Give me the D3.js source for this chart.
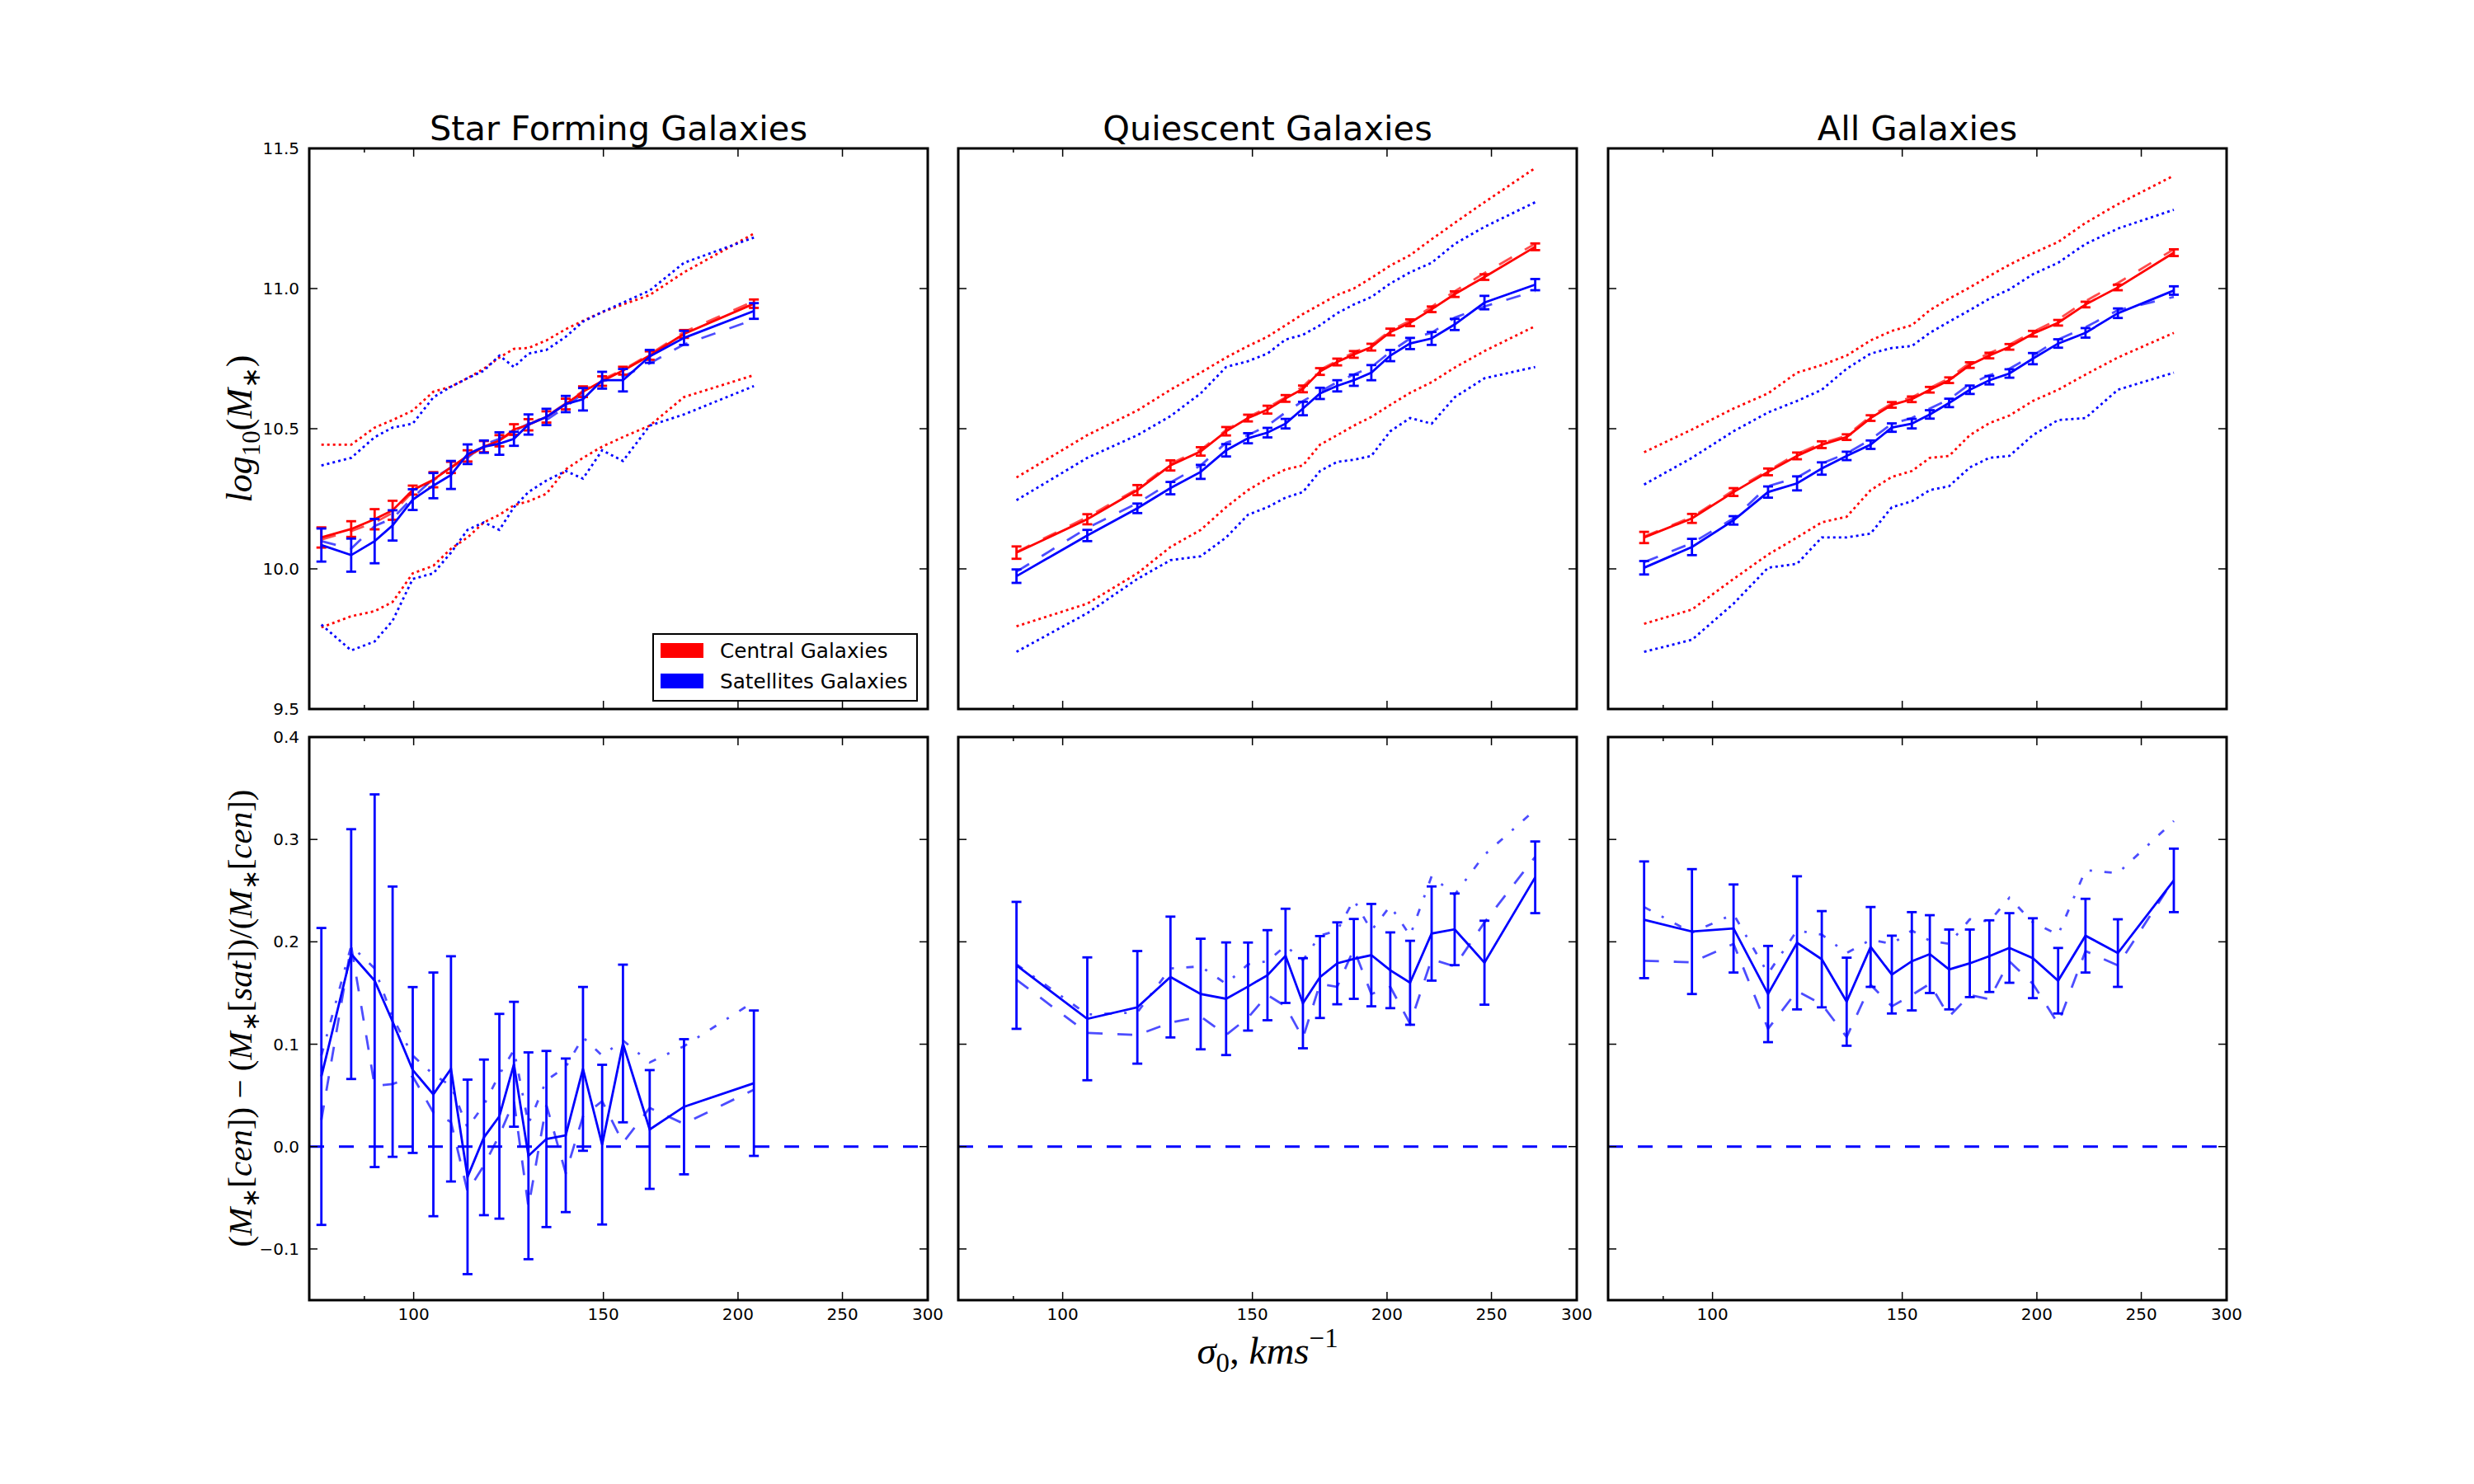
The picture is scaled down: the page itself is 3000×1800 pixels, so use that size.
<!DOCTYPE html>
<html>
<head>
<meta charset="utf-8">
<script src="https://cdn.jsdelivr.net/npm/d3@7"></script>
<style>
  body { margin: 0; background: #fff; }
  text { font-family: "DejaVu Sans"; }
  text.math { font-family: "Liberation Serif"; }
</style>
</head>
<body>
<svg id="fig" width="3000" height="1800"></svg>
<script>
(function() {

  // ---- data ----
  let titles = ["Star Forming Galaxies", "Quiescent Galaxies", "All Galaxies"];
  let xTicks = [100, 150, 200, 250, 300];
  let xMinorTicks = [90];
  let topTicks = [9.5, 10.0, 10.5, 11.0, 11.5];
  let botTicks = [-0.1, 0.0, 0.1, 0.2, 0.3, 0.4];
  let legendLabels = ["Central Galaxies", "Satellites Galaxies"];

  // star forming
  let sfSigma   = [82.1, 87.5, 92.0, 95.6, 99.8, 104.3, 108.3, 112.2, 116.2, 120.1, 123.9, 127.8, 132.8, 138.4, 143.6, 149.6, 156.4, 165.6, 178.2, 206.9];
  let sfCen     = [10.112, 10.142, 10.177, 10.209, 10.281, 10.318, 10.362, 10.403, 10.436, 10.457, 10.497, 10.514, 10.542, 10.588, 10.632, 10.670, 10.707, 10.761, 10.838, 10.946];
  let sfCenErr  = [0.036, 0.028, 0.036, 0.034, 0.016, 0.027, 0.020, 0.020, 0.020, 0.020, 0.019, 0.020, 0.020, 0.019, 0.019, 0.017, 0.014, 0.015, 0.014, 0.015];
  let sfCenDash = [10.105, 10.135, 10.165, 10.200, 10.275, 10.315, 10.360, 10.400, 10.435, 10.460, 10.490, 10.515, 10.545, 10.590, 10.635, 10.675, 10.710, 10.765, 10.845, 10.955];
  let sfCenHi   = [10.443, 10.443, 10.504, 10.531, 10.565, 10.632, 10.650, 10.680, 10.714, 10.754, 10.785, 10.788, 10.815, 10.855, 10.885, 10.916, 10.943, 10.977, 11.058, 11.196];
  let sfCenLo   = [9.791, 9.831, 9.849, 9.882, 9.984, 10.011, 10.072, 10.112, 10.166, 10.193, 10.227, 10.241, 10.268, 10.355, 10.396, 10.436, 10.470, 10.511, 10.613, 10.691];
  let sfSat     = [10.085, 10.049, 10.099, 10.155, 10.247, 10.297, 10.335, 10.409, 10.436, 10.447, 10.464, 10.515, 10.542, 10.588, 10.605, 10.673, 10.673, 10.758, 10.824, 10.920];
  let sfSatErr  = [0.059, 0.059, 0.079, 0.054, 0.037, 0.045, 0.050, 0.035, 0.022, 0.040, 0.025, 0.036, 0.029, 0.029, 0.040, 0.030, 0.040, 0.023, 0.025, 0.028];
  let sfSatDash = [10.099, 10.072, 10.153, 10.180, 10.254, 10.322, 10.362, 10.396, 10.443, 10.464, 10.491, 10.518, 10.531, 10.578, 10.626, 10.669, 10.686, 10.733, 10.801, 10.889];
  let sfSatHi   = [10.369, 10.396, 10.470, 10.504, 10.518, 10.612, 10.650, 10.680, 10.707, 10.761, 10.720, 10.768, 10.781, 10.828, 10.882, 10.916, 10.950, 10.993, 11.092, 11.182];
  let sfSatLo   = [9.801, 9.709, 9.741, 9.815, 9.964, 9.984, 10.058, 10.139, 10.166, 10.139, 10.220, 10.274, 10.315, 10.349, 10.322, 10.423, 10.385, 10.511, 10.551, 10.652];
  let sfDiff    = [0.0685, 0.188, 0.162, 0.122, 0.0748, 0.051, 0.0759, -0.0296, 0.009, 0.0296, 0.0804, -0.009, 0.0074, 0.011, 0.0759, 0.0019, 0.1007, 0.0167, 0.0389, 0.0619];
  let sfDiffErr = [0.145, 0.122, 0.182, 0.132, 0.081, 0.119, 0.110, 0.095, 0.076, 0.100, 0.061, 0.101, 0.086, 0.075, 0.080, 0.078, 0.077, 0.058, 0.066, 0.071];
  let sfDiffDash = [0.026, 0.196, 0.0593, 0.061, 0.0685, 0.0333, 0.024, -0.044, -0.0185, 0.011, 0.0444, -0.059, 0.0407, -0.026, 0.0296, 0.0444, 0.0037, 0.0378, 0.0222, 0.0556];
  let sfDiffDot  = [0.0889, 0.196, 0.174, 0.126, 0.0889, 0.0704, 0.0593, 0.0185, 0.0407, 0.0704, 0.0944, 0.0222, 0.0648, 0.0778, 0.1067, 0.0889, 0.1037, 0.0822, 0.0981, 0.1415];

  // quiescent
  let qSigma   = [90.6, 105.4, 117.3, 125.9, 134.3, 141.8, 148.6, 154.9, 161.0, 167.1, 173.3, 179.8, 186.3, 193.4, 201.4, 210.1, 220.0, 231.1, 246.3, 274.5];
  let qCen     = [10.058, 10.177, 10.281, 10.369, 10.419, 10.491, 10.538, 10.568, 10.608, 10.642, 10.704, 10.738, 10.765, 10.791, 10.845, 10.878, 10.926, 10.980, 11.041, 11.149];
  let qCenErr  = [0.022, 0.018, 0.018, 0.018, 0.015, 0.015, 0.012, 0.014, 0.012, 0.012, 0.012, 0.012, 0.012, 0.012, 0.012, 0.012, 0.010, 0.010, 0.010, 0.012];
  let qCenDash = [10.060, 10.185, 10.285, 10.375, 10.425, 10.495, 10.542, 10.575, 10.612, 10.650, 10.710, 10.742, 10.772, 10.798, 10.850, 10.885, 10.935, 10.990, 11.055, 11.160];
  let qCenHi   = [10.326, 10.477, 10.565, 10.639, 10.700, 10.754, 10.795, 10.828, 10.869, 10.909, 10.943, 10.977, 11.000, 11.038, 11.082, 11.119, 11.176, 11.234, 11.308, 11.430];
  let qCenLo   = [9.795, 9.876, 9.984, 10.078, 10.139, 10.220, 10.281, 10.322, 10.355, 10.369, 10.443, 10.477, 10.511, 10.542, 10.585, 10.628, 10.666, 10.718, 10.777, 10.866];
  let qSat     = [9.974, 10.119, 10.216, 10.288, 10.346, 10.423, 10.466, 10.486, 10.518, 10.572, 10.626, 10.653, 10.673, 10.700, 10.761, 10.804, 10.822, 10.872, 10.950, 11.014];
  let qSatErr  = [0.024, 0.020, 0.017, 0.022, 0.025, 0.022, 0.018, 0.017, 0.017, 0.024, 0.020, 0.020, 0.020, 0.027, 0.020, 0.020, 0.023, 0.020, 0.024, 0.020];
  let qSatDash = [9.990, 10.146, 10.234, 10.308, 10.369, 10.450, 10.477, 10.511, 10.558, 10.599, 10.632, 10.666, 10.693, 10.720, 10.774, 10.822, 10.842, 10.896, 10.936, 10.991];
  let qSatHi   = [10.245, 10.396, 10.477, 10.545, 10.626, 10.720, 10.741, 10.768, 10.818, 10.835, 10.869, 10.912, 10.943, 10.970, 11.018, 11.058, 11.092, 11.159, 11.220, 11.308];
  let qSatLo   = [9.704, 9.842, 9.964, 10.031, 10.045, 10.112, 10.193, 10.220, 10.254, 10.274, 10.349, 10.382, 10.389, 10.403, 10.491, 10.538, 10.518, 10.612, 10.680, 10.720];
  let qDiff    = [0.177, 0.1248, 0.136, 0.1656, 0.149, 0.1444, 0.1563, 0.1674, 0.1863, 0.140, 0.1656, 0.179, 0.1833, 0.187, 0.1722, 0.160, 0.2081, 0.2122, 0.1796, 0.263];
  let qDiffErr = [0.062, 0.060, 0.055, 0.059, 0.054, 0.055, 0.043, 0.044, 0.046, 0.044, 0.040, 0.040, 0.039, 0.050, 0.037, 0.041, 0.046, 0.035, 0.041, 0.035];
  let qDiffDash = [0.163, 0.111, 0.109, 0.121, 0.127, 0.109, 0.126, 0.148, 0.137, 0.106, 0.159, 0.156, 0.193, 0.149, 0.156, 0.120, 0.183, 0.176, 0.219, 0.283];
  let qDiffDot  = [0.178, 0.129, 0.131, 0.174, 0.176, 0.159, 0.178, 0.181, 0.196, 0.182, 0.206, 0.211, 0.241, 0.211, 0.235, 0.206, 0.264, 0.246, 0.285, 0.329];

  // all galaxies
  let aSigma   = [86.4, 95.7, 104.6, 112.6, 119.8, 126.3, 133.2, 140.2, 146.7, 153.1, 159.1, 165.8, 173.3, 180.7, 188.6, 198.3, 209.3, 221.9, 237.8, 268.0];
  let aCen     = [10.112, 10.180, 10.274, 10.346, 10.403, 10.443, 10.470, 10.538, 10.585, 10.605, 10.639, 10.673, 10.727, 10.761, 10.792, 10.839, 10.878, 10.943, 11.004, 11.128];
  let aCenErr  = [0.020, 0.016, 0.014, 0.012, 0.012, 0.012, 0.010, 0.010, 0.010, 0.010, 0.010, 0.010, 0.010, 0.010, 0.010, 0.010, 0.010, 0.010, 0.010, 0.012];
  let aCenDash = [10.115, 10.185, 10.280, 10.350, 10.410, 10.448, 10.475, 10.545, 10.590, 10.612, 10.645, 10.680, 10.735, 10.770, 10.800, 10.845, 10.890, 10.955, 11.020, 11.140];
  let aCenHi   = [10.416, 10.497, 10.572, 10.626, 10.700, 10.727, 10.761, 10.815, 10.849, 10.869, 10.923, 10.964, 11.004, 11.045, 11.085, 11.126, 11.166, 11.234, 11.301, 11.403];
  let aCenLo   = [9.804, 9.855, 9.964, 10.051, 10.112, 10.166, 10.186, 10.281, 10.328, 10.349, 10.396, 10.403, 10.477, 10.520, 10.547, 10.599, 10.639, 10.693, 10.754, 10.842];
  let aSat     = [10.004, 10.078, 10.173, 10.274, 10.305, 10.358, 10.403, 10.443, 10.504, 10.518, 10.551, 10.592, 10.639, 10.673, 10.697, 10.750, 10.804, 10.842, 10.912, 10.993];
  let aSatErr  = [0.024, 0.029, 0.015, 0.020, 0.025, 0.022, 0.015, 0.015, 0.015, 0.017, 0.015, 0.015, 0.015, 0.015, 0.015, 0.020, 0.015, 0.017, 0.017, 0.015];
  let aSatDash = [10.024, 10.092, 10.180, 10.295, 10.326, 10.376, 10.412, 10.461, 10.518, 10.538, 10.572, 10.605, 10.659, 10.691, 10.714, 10.761, 10.818, 10.862, 10.923, 10.970];
  let aSatHi   = [10.301, 10.396, 10.491, 10.558, 10.599, 10.639, 10.714, 10.768, 10.788, 10.795, 10.842, 10.882, 10.923, 10.964, 10.997, 11.051, 11.092, 11.159, 11.214, 11.281];
  let aSatLo   = [9.704, 9.747, 9.876, 10.004, 10.018, 10.112, 10.112, 10.126, 10.220, 10.241, 10.281, 10.295, 10.362, 10.396, 10.403, 10.477, 10.531, 10.538, 10.639, 10.700];
  let aDiff    = [0.2215, 0.210, 0.213, 0.149, 0.199, 0.183, 0.1415, 0.195, 0.168, 0.181, 0.188, 0.173, 0.179, 0.186, 0.194, 0.184, 0.162, 0.206, 0.189, 0.260];
  let aDiffErr = [0.057, 0.061, 0.043, 0.047, 0.065, 0.047, 0.043, 0.039, 0.038, 0.048, 0.038, 0.039, 0.033, 0.035, 0.034, 0.039, 0.032, 0.036, 0.033, 0.031];
  let aDiffDash = [0.1815, 0.180, 0.198, 0.115, 0.152, 0.139, 0.107, 0.158, 0.137, 0.148, 0.159, 0.127, 0.148, 0.144, 0.181, 0.159, 0.120, 0.191, 0.177, 0.261];
  let aDiffDot  = [0.234, 0.209, 0.227, 0.169, 0.211, 0.207, 0.189, 0.202, 0.198, 0.211, 0.201, 0.198, 0.222, 0.220, 0.243, 0.219, 0.207, 0.270, 0.267, 0.318];

  let panels = [
    {sigma: sfSigma, cen: sfCen, cenErr: sfCenErr, cenDash: sfCenDash, cenHi: sfCenHi, cenLo: sfCenLo,
     sat: sfSat, satErr: sfSatErr, satDash: sfSatDash, satHi: sfSatHi, satLo: sfSatLo,
     diff: sfDiff, diffErr: sfDiffErr, diffDash: sfDiffDash, diffDot: sfDiffDot},
    {sigma: qSigma, cen: qCen, cenErr: qCenErr, cenDash: qCenDash, cenHi: qCenHi, cenLo: qCenLo,
     sat: qSat, satErr: qSatErr, satDash: qSatDash, satHi: qSatHi, satLo: qSatLo,
     diff: qDiff, diffErr: qDiffErr, diffDash: qDiffDash, diffDot: qDiffDot},
    {sigma: aSigma, cen: aCen, cenErr: aCenErr, cenDash: aCenDash, cenHi: aCenHi, cenLo: aCenLo,
     sat: aSat, satErr: aSatErr, satDash: aSatDash, satHi: aSatHi, satLo: aSatLo,
     diff: aDiff, diffErr: aDiffErr, diffDash: aDiffDash, diffDot: aDiffDot}
  ];

  // ---- layout ----
  let svg = d3.select("#fig");
  let colLeft = [375, 1162, 1950];
  let colW = 750;
  let rowTop = [180, 894];
  let rowH = [680, 683];
  let lw = 2.8;
  let capW = 12;
  let tickFont = 20;

  function fmt(v) {
    let s = v.toFixed(1);
    return v < 0 ? "\u2212" + s.slice(1) : s;
  }

  function line(x, y, vals, sigma) {
    return d3.line().x((d, i) => x(sigma[i])).y(d => y(d))(vals);
  }

  function drawSeries(g, x, y, sigma, vals, color, style) {
    let p = g.append("path")
      .attr("d", line(x, y, vals, sigma))
      .attr("fill", "none")
      .attr("stroke", color)
      .attr("stroke-width", lw);
    if (style === "dot") p.attr("stroke-dasharray", "3,4");
    if (style === "dash") p.attr("stroke-dasharray", "18,18").attr("stroke-opacity", 0.7);
    if (style === "dashdot") p.attr("stroke-dasharray", "9,15,3,15").attr("stroke-opacity", 0.7);
    return p;
  }

  function drawErrors(g, x, y, sigma, vals, errs, color) {
    let grp = g.append("g").attr("stroke", color).attr("stroke-width", lw);
    vals.forEach((v, i) => {
      let cx = x(sigma[i]);
      grp.append("line").attr("x1", cx).attr("x2", cx).attr("y1", y(v - errs[i])).attr("y2", y(v + errs[i]));
      grp.append("line").attr("x1", cx - capW / 2).attr("x2", cx + capW / 2).attr("y1", y(v - errs[i])).attr("y2", y(v - errs[i]));
      grp.append("line").attr("x1", cx - capW / 2).attr("x2", cx + capW / 2).attr("y1", y(v + errs[i])).attr("y2", y(v + errs[i]));
    });
  }

  function drawFrame(g, x, y, yTicks, showX, showY, left, top, h) {
    // ticks on all four sides, pointing in
    let tg = g.append("g").attr("stroke", "#000").attr("stroke-width", 1.5);
    xTicks.forEach(t => {
      let px = x(t);
      tg.append("line").attr("x1", px).attr("x2", px).attr("y1", top + h).attr("y2", top + h - 10);
      tg.append("line").attr("x1", px).attr("x2", px).attr("y1", top).attr("y2", top + 10);
    });
    xMinorTicks.forEach(t => {
      let px = x(t);
      tg.append("line").attr("x1", px).attr("x2", px).attr("y1", top + h).attr("y2", top + h - 5);
      tg.append("line").attr("x1", px).attr("x2", px).attr("y1", top).attr("y2", top + 5);
    });
    yTicks.forEach(t => {
      let py = y(t);
      tg.append("line").attr("x1", left).attr("x2", left + 10).attr("y1", py).attr("y2", py);
      tg.append("line").attr("x1", left + colW).attr("x2", left + colW - 10).attr("y1", py).attr("y2", py);
    });
    g.append("rect")
      .attr("x", left).attr("y", top).attr("width", colW).attr("height", h)
      .attr("fill", "none").attr("stroke", "#000").attr("stroke-width", 3);
    if (showX) {
      xTicks.forEach(t => {
        g.append("text").attr("x", x(t)).attr("y", top + h + 24)
          .attr("text-anchor", "middle").attr("font-size", tickFont).text(t);
      });
    }
    if (showY) {
      yTicks.forEach(t => {
        g.append("text").attr("x", left - 12).attr("y", y(t) + 7)
          .attr("text-anchor", "end").attr("font-size", tickFont).text(fmt(t));
      });
    }
  }

  panels.forEach((p, c) => {
    let left = colLeft[c];
    let x = d3.scaleLog().domain([80, 300]).range([left, left + colW]);

    // top row: stellar mass
    let yTop = d3.scaleLinear().domain([9.5, 11.5]).range([rowTop[0] + rowH[0], rowTop[0]]);
    let g = svg.append("g");
    drawSeries(g, x, yTop, p.sigma, p.cenHi, "red", "dot");
    drawSeries(g, x, yTop, p.sigma, p.cenLo, "red", "dot");
    drawSeries(g, x, yTop, p.sigma, p.satHi, "blue", "dot");
    drawSeries(g, x, yTop, p.sigma, p.satLo, "blue", "dot");
    drawSeries(g, x, yTop, p.sigma, p.cenDash, "red", "dash");
    drawSeries(g, x, yTop, p.sigma, p.satDash, "blue", "dash");
    drawSeries(g, x, yTop, p.sigma, p.cen, "red", "solid");
    drawErrors(g, x, yTop, p.sigma, p.cen, p.cenErr, "red");
    drawSeries(g, x, yTop, p.sigma, p.sat, "blue", "solid");
    drawErrors(g, x, yTop, p.sigma, p.sat, p.satErr, "blue");
    drawFrame(g, x, yTop, topTicks, false, c === 0, left, rowTop[0], rowH[0]);

    svg.append("text")
      .attr("x", left + colW / 2).attr("y", 170)
      .attr("text-anchor", "middle").attr("font-size", 41.5)
      .text(titles[c]);

    // bottom row: fractional difference
    let yBot = d3.scaleLinear().domain([-0.15, 0.4]).range([rowTop[1] + rowH[1], rowTop[1]]);
    let g2 = svg.append("g");
    g2.append("line")
      .attr("x1", x(80)).attr("x2", x(300)).attr("y1", yBot(0)).attr("y2", yBot(0))
      .attr("stroke", "blue").attr("stroke-width", lw).attr("stroke-dasharray", "18,18");
    drawSeries(g2, x, yBot, p.sigma, p.diffDash, "blue", "dash");
    drawSeries(g2, x, yBot, p.sigma, p.diffDot, "blue", "dashdot");
    drawSeries(g2, x, yBot, p.sigma, p.diff, "blue", "solid");
    drawErrors(g2, x, yBot, p.sigma, p.diff, p.diffErr, "blue");
    drawFrame(g2, x, yBot, botTicks, true, c === 0, left, rowTop[1], rowH[1]);
  });

  // legend in first panel
  let leg = svg.append("g");
  leg.append("rect").attr("x", 792).attr("y", 769).attr("width", 320).attr("height", 81)
    .attr("fill", "#fff").attr("stroke", "#000").attr("stroke-width", 2);
  ["red", "blue"].forEach((col, i) => {
    leg.append("rect").attr("x", 801).attr("y", 780 + i * 37).attr("width", 52).attr("height", 18).attr("fill", col);
    leg.append("text").attr("x", 873).attr("y", 798 + i * 37).attr("font-size", 24.7).text(legendLabels[i]);
  });

  // math-style axis labels
  function mathLabel(parent, parts, fs) {
    let t = parent.append("text")
      .attr("class", "math")
      .attr("font-size", fs)
      .attr("text-anchor", "middle");
    let shift = 0;
    parts.forEach(q => {
      let target = q.sub ? fs * 0.22 : q.sup ? -fs * 0.42 : 0;
      t.append("tspan")
        .attr("dy", target - shift)
        .style("font-style", q.it ? "italic" : "normal")
        .attr("font-size", (q.sub || q.sup) ? fs * 0.7 : fs)
        .text(q.t);
      shift = target;
    });
    return t;
  }

  mathLabel(svg.append("g").attr("transform", "translate(305,520) rotate(-90)"), [
    {t: "log", it: 1}, {t: "10", sub: 1}, {t: "("}, {t: "M", it: 1}, {t: "\u2217", sub: 1}, {t: ")"}
  ], 44);

  mathLabel(svg.append("g").attr("transform", "translate(305,1235) rotate(-90)"), [
    {t: "("}, {t: "M", it: 1}, {t: "\u2217", sub: 1}, {t: "["}, {t: "cen", it: 1}, {t: "]) \u2212 ("},
    {t: "M", it: 1}, {t: "\u2217", sub: 1}, {t: "["}, {t: "sat", it: 1}, {t: "])/("},
    {t: "M", it: 1}, {t: "\u2217", sub: 1}, {t: "["}, {t: "cen", it: 1}, {t: "])"}
  ], 41);

  mathLabel(svg.append("g").attr("transform", "translate(1537,1654)"), [
    {t: "\u03c3", it: 1}, {t: "0", sub: 1}, {t: ", "}, {t: "kms", it: 1}, {t: "\u22121", sup: 1}
  ], 47);

})();
</script>
</body>
</html>
